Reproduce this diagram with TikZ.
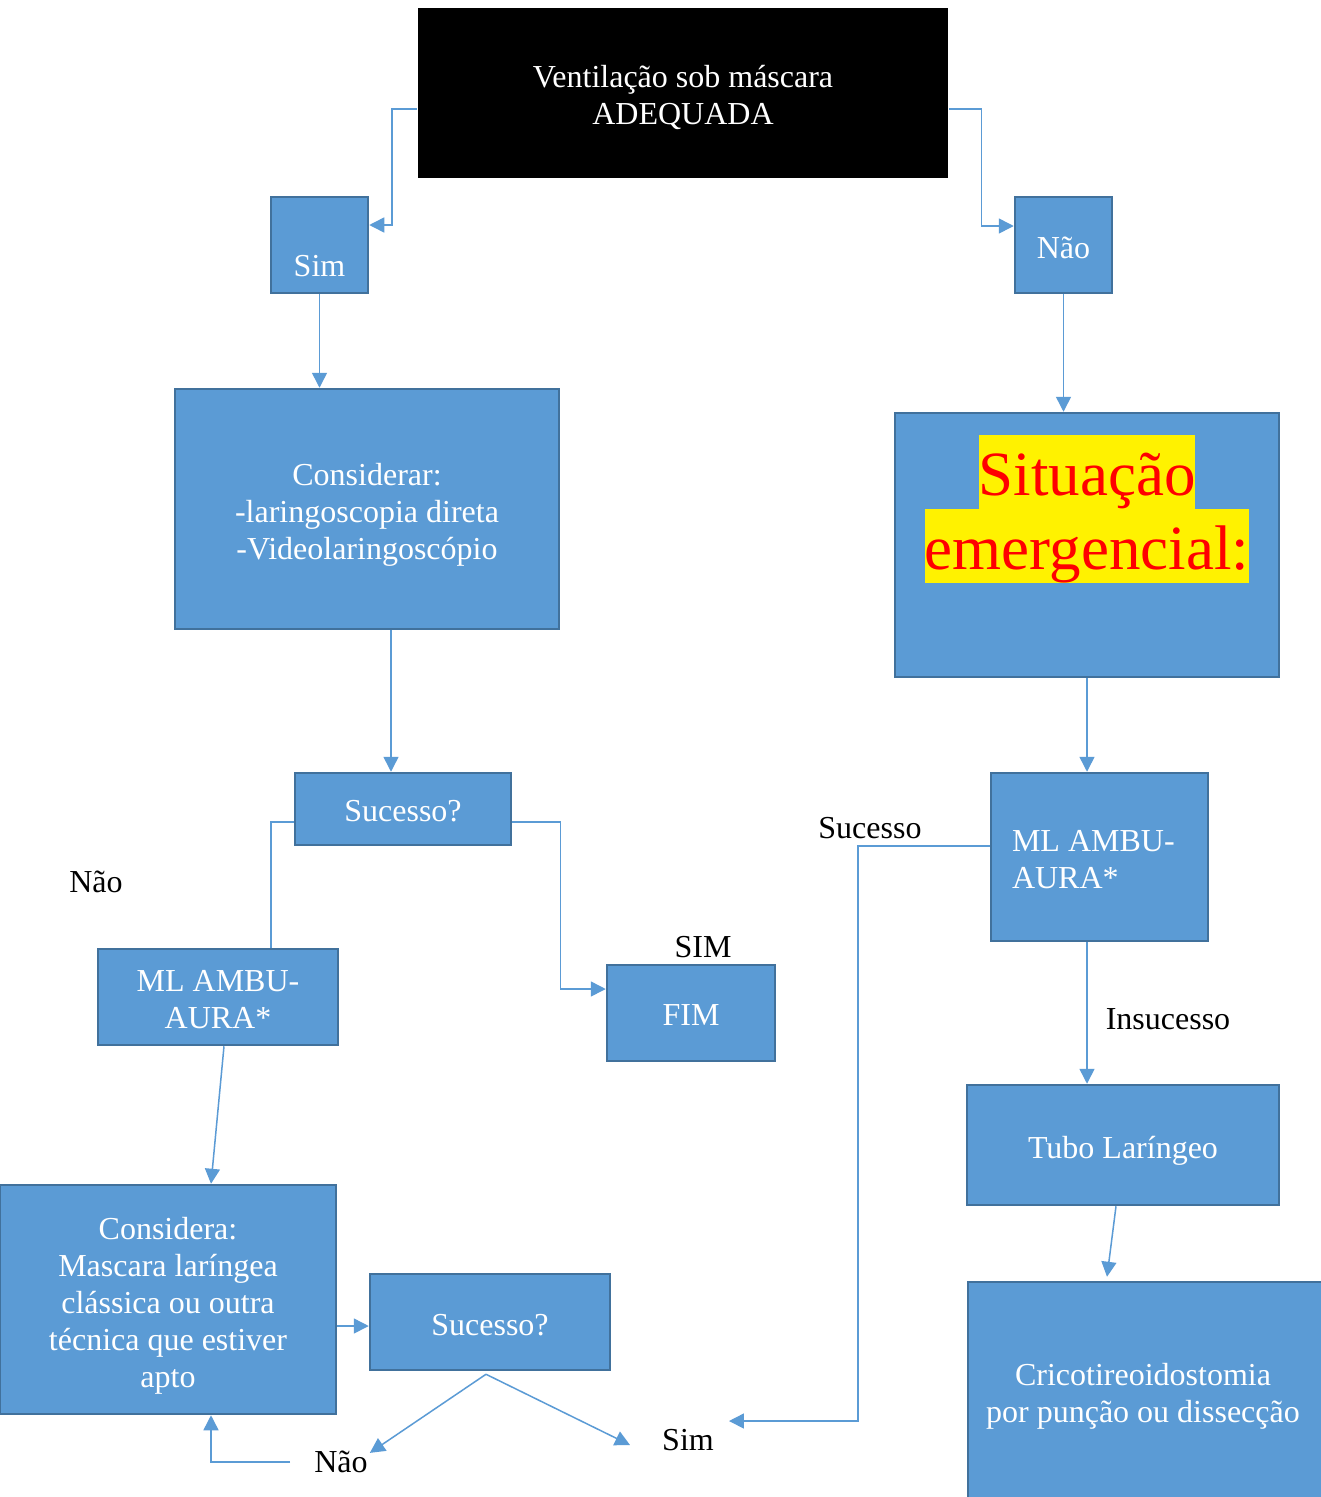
\documentclass[tikz,border=0pt]{standalone}
\usepackage{fontspec}
\setmainfont{Liberation Serif}
\usetikzlibrary{arrows.meta}
\definecolor{boxfill}{HTML}{5B9BD5}
\definecolor{boxline}{HTML}{41719C}
\definecolor{connc}{HTML}{5B9BD5}
\newcommand\dn[2]{\raisebox{-#1}[\height][\depth]{\begin{tabular}{@{}c@{}}#2\end{tabular}}}
\newcommand\dnl[2]{\raisebox{-#1}[\height][\depth]{\begin{tabular}{@{}l@{}}#2\end{tabular}}}
\begin{document}
\begin{tikzpicture}[x=1pt,y=-1pt,
  box/.style={draw=boxline, fill=boxfill, line width=2.5pt, text=white, inner sep=0pt,
    font=\fontsize{32}{37}\selectfont, align=center},
  conn/.style={draw=connc, line width=1.5pt, -{Triangle[length=15pt,width=15pt]}},
  plainline/.style={draw=connc, line width=1.5pt},
  lbl/.style={text=black, font=\fontsize{32}{37}\selectfont, inner sep=0pt}]
\useasboundingbox (0,0) rectangle (1321,1497);
\fill[white] (0,0) rectangle (1321,1497);

% boxes
\node[box, draw=none, fill=black, minimum width=530pt, minimum height=170pt] (top) at (683,93)
  {\dn{6pt}{Ventilação sob máscara\\ADEQUADA}};
\node[box, minimum width=97pt, minimum height=96pt] (sim) at (319.5,245) {\dn{24pt}{Sim}};
\node[box, minimum width=97pt, minimum height=96pt] (nao) at (1063.5,245) {\dn{6pt}{Não}};
\node[box, minimum width=384pt, minimum height=240pt] (cons) at (367,509)
  {\dn{6pt}{Considerar:\\-laringoscopia direta\\-Videolaringoscópio}};
\node[box, minimum width=384pt, minimum height=264pt] (sit) at (1087,545)
  {\raisebox{36pt}[\height][\depth]{\fontsize{63}{74}\selectfont\color{red}\setlength{\fboxsep}{0pt}%
   \renewcommand\arraystretch{0}%
   \begin{tabular}{@{}c@{}}
   \colorbox{yellow}{\rule[-14pt]{0pt}{74pt}Situação}\\
   \colorbox{yellow}{\rule[-14pt]{0pt}{74pt}emergencial:}
   \end{tabular}}};
\node[box, minimum width=216pt, minimum height=72pt] (suc1) at (403,809) {\dn{5pt}{Sucesso?}};
\node[box, minimum width=240pt, minimum height=96pt] (mlL) at (218,997) {\dn{6pt}{ML AMBU-\\AURA*}};
\node[box, minimum width=168pt, minimum height=96pt] (fim) at (691,1013) {\dn{5pt}{FIM}};
\node[box, minimum width=336pt, minimum height=229pt] (consa) at (168,1299.5)
  {\dn{7pt}{Considera:\\Mascara laríngea\\clássica ou outra\\técnica que estiver\\apto}};
\node[box, minimum width=240pt, minimum height=96pt] (suc2) at (490,1322) {\dn{6pt}{Sucesso?}};
\node[box, minimum width=217pt, minimum height=168pt] (mlR) at (1099.5,857)
  {\makebox[175pt][l]{\dnl{6pt}{ML AMBU-\\AURA*}}};
\node[box, minimum width=312pt, minimum height=120pt] (tubo) at (1123,1145) {\dn{6pt}{Tubo Laríngeo}};
\node[box, minimum width=362pt, minimum height=222pt] (crico) at (1149,1393)
  {\hspace*{-12pt}\dn{4pt}{Cricotireoidostomia\\por punção ou dissecção}};

% labels
\node[lbl] (naoA) at (96,882) {Não};
\node[lbl] (simA) at (703,947) {SIM};
\node[lbl] (sucL) at (870,828) {Sucesso};
\node[lbl] (insL) at (1168,1019) {Insucesso};
\node[lbl] (naoB) at (341,1462) {Não};
\node[lbl] (simB) at (688,1440) {Sim};

% connectors
\draw[conn] ([yshift=-16pt]top.west) -- ++(-25,0) |- ([yshift=20pt]sim.east);
\draw[conn] ([yshift=-16pt]top.east) -- ++(32,0) |- ([yshift=19pt]nao.west);
\draw[conn] (sim.south) -- (sim.south |- cons.north);
\draw[conn] (nao.south) -- (nao.south |- sit.north);
\coordinate (c1) at ([xshift=24pt]cons.south);
\draw[conn] (c1) -- (c1 |- suc1.north);
\draw[plainline] ([yshift=-13pt]suc1.west) -| ([xshift=53pt]mlL.north);
\draw[conn] ([yshift=-13pt]suc1.east) -- ++(48,0) |- ([yshift=24pt]fim.west);
\draw[conn] ([xshift=6pt]mlL.south) -- ([xshift=43pt]consa.north);
\draw[conn] ([yshift=-26.5pt]consa.east) -- ([yshift=-4pt]suc2.west);
\coordinate (c3) at ([xshift=-4pt,yshift=-3pt]suc2.south);
\draw[conn] (c3) -- ([xshift=2pt,yshift=-2pt]naoB.north east);
\draw[conn] (c3) -- ([xshift=-32pt,yshift=-5pt]simB.west);
\draw[conn] ([xshift=-24pt]naoB.west) -| ([xshift=43pt]consa.south);
\draw[conn] (sit.south) -- (sit.south |- mlR.north);
\draw[conn] ([yshift=11pt]mlR.west) -- ++(-132,0) |- ([xshift=15pt,yshift=19pt]simB.east);
\coordinate (c2) at ([xshift=-12.5pt]mlR.south);
\draw[conn] (c2) -- (c2 |- tubo.north);
\draw[conn] ([xshift=-7pt]tubo.south) -- ([xshift=-42pt,yshift=4pt]crico.north);
\end{tikzpicture}
\end{document}
